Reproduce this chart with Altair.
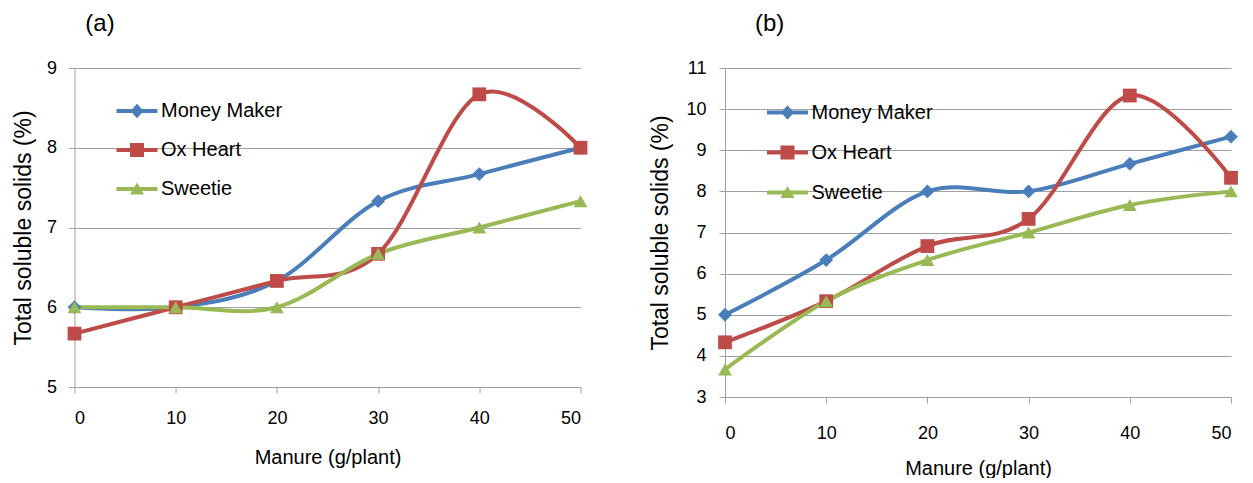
import altair as alt
import pandas as pd

# ---- data ----
manure = [0, 10, 20, 30, 40, 50]
series_names = ["Money Maker", "Ox Heart", "Sweetie"]

a_money_maker = [6.0, 6.0, 6.33, 7.33, 7.67, 8.0]
a_ox_heart = [5.67, 6.0, 6.33, 6.67, 8.67, 8.0]
a_sweetie = [6.0, 6.0, 6.0, 6.67, 7.0, 7.33]

b_money_maker = [5.0, 6.33, 8.0, 8.0, 8.67, 9.33]
b_ox_heart = [4.33, 5.33, 6.67, 7.33, 10.33, 8.33]
b_sweetie = [3.67, 5.33, 6.33, 7.0, 7.67, 8.0]

x_ticks = [0, 10, 20, 30, 40, 50]
a_y_ticks = [5, 6, 7, 8, 9]
b_y_ticks = [3, 4, 5, 6, 7, 8, 9, 10, 11]

colors = ["#4A7EBB", "#BE4B48", "#98B954"]
FONT = "Liberation Sans"
GRID = "#a0a0a0"

# legend symbols: line segment + marker (unit space, 1 unit = sqrt(size)/2 px)
legend_paths = [
    "M-2.05,-0.2 L2.05,-0.2 L2.05,0.2 L-2.05,0.2 Z M0,-0.72 L0.65,0 L0,0.72 L-0.65,0 Z",
    "M-2.05,-0.2 L2.05,-0.2 L2.05,0.2 L-2.05,0.2 Z M-0.7,-0.7 L0.7,-0.7 L0.7,0.7 L-0.7,0.7 Z",
    "M-2.05,-0.2 L2.05,-0.2 L2.05,0.2 L-2.05,0.2 Z M0,-0.65 L0.7,0.55 L-0.7,0.55 Z",
]


def make_df(vals_list):
    rows = []
    for name, vals in zip(series_names, vals_list):
        for m, v in zip(manure, vals):
            rows.append({"manure": m, "value": v, "series": name})
    return pd.DataFrame(rows)


def panel(df, y_dom, y_ticks, h, tag, tag_dx, x_lab_pad, x_title_pad,
          y_lab_pad, y_title_pad, leg_y, leg_row_pad):
    x = alt.X(
        "manure:Q",
        scale=alt.Scale(domain=[0, 50], nice=False, zero=False),
        axis=alt.Axis(values=x_ticks, title="Manure (g/plant)", grid=False,
                      tickSize=6, labelPadding=x_lab_pad,
                      titlePadding=x_title_pad, format="d",
                      titleFontSize=20),
    )
    y = alt.Y(
        "value:Q",
        scale=alt.Scale(domain=y_dom, nice=False, zero=False),
        axis=alt.Axis(values=y_ticks, title="Total soluble solids (%)",
                      grid=True, tickSize=6, labelPadding=y_lab_pad,
                      titlePadding=y_title_pad, format="d",
                      titleFontSize=23),
    )
    cscale = alt.Scale(domain=series_names, range=colors)
    base = alt.Chart(df)
    lines = base.mark_line(interpolate="cardinal", strokeWidth=4).encode(
        x=x, y=y, color=alt.Color("series:N", scale=cscale, legend=None)
    )
    points = base.mark_point(filled=True, size=190, opacity=1).encode(
        x=x, y=y,
        color=alt.Color("series:N", scale=cscale, legend=None),
        shape=alt.Shape("series:N",
                        scale=alt.Scale(domain=series_names,
                                        range=["diamond", "square", "triangle-up"]),
                        legend=None),
    )
    leg = alt.Legend(orient="none", legendX=52.5, legendY=leg_y, title=None,
                     symbolSize=400, symbolStrokeWidth=0, symbolOpacity=1,
                     labelFontSize=20, labelFont=FONT, labelColor="black",
                     labelOffset=14, rowPadding=leg_row_pad, padding=0,
                     labelLimit=300, direction="vertical")
    # legend-only layer: no marks drawn (all rows filtered), legend from scale domain
    legend_layer = base.mark_point(filled=True).encode(
        x=x, y=y,
        color=alt.Color("series:N", scale=cscale, legend=leg),
        shape=alt.Shape("series:N",
                        scale=alt.Scale(domain=series_names, range=legend_paths),
                        legend=leg),
    ).transform_filter(alt.datum.manure < -1)
    return (
        alt.layer(lines, points, legend_layer)
        .resolve_scale(color="independent", shape="independent")
        .properties(
            width=506, height=h,
            title=alt.TitleParams(tag, anchor="start", dx=tag_dx, dy=1, offset=0,
                                  baseline="bottom", fontSize=24,
                                  fontWeight="normal", font=FONT,
                                  color="black", frame="group"),
        )
    )


df_a = make_df([a_money_maker, a_ox_heart, a_sweetie])
df_b = make_df([b_money_maker, b_ox_heart, b_sweetie])

pa = panel(df_a, [5, 9], a_y_ticks, 319, "(a)", 10.8, 16, 20, 12, 11, 33, 19)
pb = panel(df_b, [3, 11], b_y_ticks, 329, "(b)", 30, 21, 16, 13, 13, 34.5, 20)

chart = (
    alt.hconcat(pa, pb, spacing=60.5)
    .resolve_scale(color="independent", shape="independent")
    .resolve_legend(color="independent", shape="independent")
    .properties(padding={"left": 3.5, "top": 4, "right": 0, "bottom": 0})
    .configure_view(stroke=None)
    .configure_axis(
        labelFont=FONT, titleFont=FONT, labelFontSize=18, labelColor="black",
        titleColor="black", titleFontWeight="normal", gridColor=GRID,
        gridWidth=1, domainColor=GRID, tickColor=GRID, domainWidth=1,
        tickWidth=1,
    )
)

chart.save("out.html", embed_options={"renderer": "svg", "actions": False})
